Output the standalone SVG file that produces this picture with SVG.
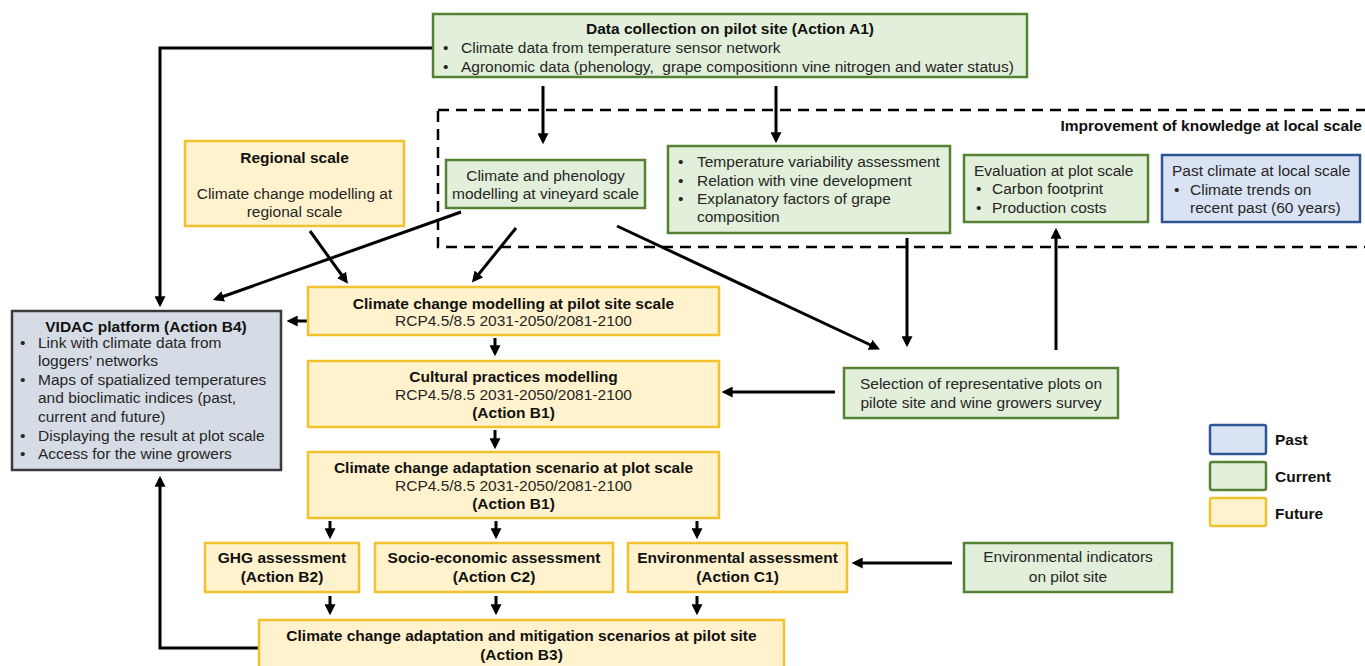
<svg xmlns="http://www.w3.org/2000/svg" width="1365" height="666" viewBox="0 0 1365 666">
<defs>
<marker id="ah" viewBox="0 0 10 10" refX="7" refY="5" markerWidth="11" markerHeight="11" markerUnits="userSpaceOnUse" orient="auto">
<path d="M0,0 L10,5 L0,10 z" fill="#000"/>
</marker>
<style>
.g{fill:#e2efda;stroke:#548235;stroke-width:2.5}
.y{fill:#fff2cc;stroke:#f2c12e;stroke-width:2.5}
.b{fill:#dae3f3;stroke:#2f5597;stroke-width:2.5}
.v{fill:#d6dce5;stroke:#3a3a3a;stroke-width:2.5}
text{font-family:"Liberation Sans",Arial,sans-serif;font-size:15.5px;fill:#262626}
.t{font-weight:bold;fill:#111}
.c{text-anchor:middle}
.e{text-anchor:end}
.con line,.con polyline{stroke:#000;stroke-width:3;fill:none;marker-end:url(#ah)}
</style>
</defs>
<rect width="1365" height="666" fill="#fff"/>

<g id="region">
<rect x="438" y="110" width="940" height="137" fill="none" stroke="#000" stroke-width="2.5" stroke-dasharray="11,7"/>
<text class="t e" x="1362" y="131">Improvement of knowledge at local scale</text>
</g>

<g class="con" id="connectors">
<polyline points="433,48 160,48 160,304"/>
<line x1="543" y1="86" x2="543" y2="141"/>
<line x1="776" y1="86" x2="776" y2="140"/>
<line x1="461" y1="212" x2="216" y2="299"/>
<line x1="310" y1="231" x2="346" y2="281"/>
<line x1="516" y1="228" x2="474" y2="280"/>
<line x1="617" y1="226" x2="877" y2="348"/>
<line x1="907" y1="238" x2="907" y2="344"/>
<line x1="1056" y1="350" x2="1056" y2="231"/>
<line x1="308" y1="321" x2="290" y2="321"/>
<line x1="495" y1="338" x2="495" y2="353"/>
<line x1="495" y1="430" x2="495" y2="446"/>
<line x1="835" y1="392" x2="725" y2="392"/>
<line x1="330" y1="521" x2="330" y2="536"/>
<line x1="496" y1="521" x2="496" y2="536"/>
<line x1="697" y1="521" x2="697" y2="536"/>
<line x1="952" y1="563" x2="855" y2="563"/>
<line x1="330" y1="596" x2="330" y2="612"/>
<line x1="496" y1="596" x2="496" y2="612"/>
<line x1="697" y1="596" x2="697" y2="612"/>
<polyline points="259,648 160,648 160,479"/>
</g>

<g id="a1">
<rect class="g" x="433" y="14" width="594" height="63"/>
<text class="t c" x="730" y="34">Data collection on pilot site (Action A1)</text>
<text x="443" y="53">•</text><text x="461" y="53">Climate data from temperature sensor network</text>
<text x="443" y="72">•</text><text x="461" y="72" xml:space="preserve">Agronomic data (phenology,  grape compositionn vine nitrogen and water status)</text>
</g>

<g id="regional">
<rect class="y" x="185" y="141" width="219" height="85"/>
<text class="t c" x="294.5" y="163">Regional scale</text>
<text class="c" x="294.5" y="199">Climate change modelling at</text>
<text class="c" x="294.5" y="217">regional scale</text>
</g>

<g id="phenology">
<rect class="g" x="446" y="160" width="199" height="48"/>
<text class="c" x="545.5" y="181">Climate and phenology</text>
<text class="c" x="545.5" y="199">modelling at vineyard scale</text>
</g>

<g id="tempvar">
<rect class="g" x="668" y="146" width="282" height="87"/>
<text x="678" y="167">•</text><text x="697" y="167">Temperature variability assessment</text>
<text x="678" y="186">•</text><text x="697" y="186">Relation with vine development</text>
<text x="678" y="204">•</text><text x="697" y="204">Explanatory factors of grape</text>
<text x="697" y="222">composition</text>
</g>

<g id="evaluation">
<rect class="g" x="964" y="155" width="184" height="67"/>
<text x="974" y="176">Evaluation at plot scale</text>
<text x="976" y="194">•</text><text x="992" y="194">Carbon footprint</text>
<text x="976" y="213">•</text><text x="992" y="213">Production costs</text>
</g>

<g id="past">
<rect class="b" x="1162" y="155" width="198" height="67"/>
<text x="1172" y="176">Past climate at local scale</text>
<text x="1174" y="195">•</text><text x="1190" y="195">Climate trends on</text>
<text x="1190" y="213">recent past (60 years)</text>
</g>

<g id="vidac">
<rect class="v" x="12" y="311" width="269" height="159"/>
<text class="t c" x="146" y="332">VIDAC platform (Action B4)</text>
<text x="20" y="348">•</text><text x="38" y="348">Link with climate data from</text>
<text x="38" y="366">loggers’ networks</text>
<text x="20" y="385">•</text><text x="38" y="385">Maps of spatialized temperatures</text>
<text x="38" y="403">and bioclimatic indices (past,</text>
<text x="38" y="422">current and future)</text>
<text x="20" y="441">•</text><text x="38" y="441">Displaying the result at plot scale</text>
<text x="20" y="459">•</text><text x="38" y="459">Access for the wine growers</text>
</g>

<g id="pilotscale">
<rect class="y" x="308" y="287" width="411" height="48"/>
<text class="t c" x="513.5" y="309">Climate change modelling at pilot site scale</text>
<text class="c" x="513.5" y="326">RCP4.5/8.5 2031-2050/2081-2100</text>
</g>

<g id="cultural">
<rect class="y" x="308" y="361" width="411" height="66"/>
<text class="t c" x="513.5" y="382">Cultural practices modelling</text>
<text class="c" x="513.5" y="400">RCP4.5/8.5 2031-2050/2081-2100</text>
<text class="t c" x="513.5" y="418">(Action B1)</text>
</g>

<g id="adaptation">
<rect class="y" x="308" y="452" width="411" height="66"/>
<text class="t c" x="513.5" y="473">Climate change adaptation scenario at plot scale</text>
<text class="c" x="513.5" y="491">RCP4.5/8.5 2031-2050/2081-2100</text>
<text class="t c" x="513.5" y="509">(Action B1)</text>
</g>

<g id="selection">
<rect class="g" x="844" y="368" width="274" height="50"/>
<text class="c" x="981" y="389">Selection of representative plots on</text>
<text class="c" x="981" y="408">pilote site and wine growers survey</text>
</g>

<g id="ghg">
<rect class="y" x="205" y="543" width="154" height="49"/>
<text class="t c" x="282" y="563">GHG assessment</text>
<text class="t c" x="282" y="582">(Action B2)</text>
</g>

<g id="socio">
<rect class="y" x="375" y="543" width="238" height="49"/>
<text class="t c" x="494" y="563">Socio-economic assessment</text>
<text class="t c" x="494" y="582">(Action C2)</text>
</g>

<g id="env">
<rect class="y" x="628" y="543" width="219" height="49"/>
<text class="t c" x="737.5" y="563">Environmental assessment</text>
<text class="t c" x="737.5" y="582">(Action C1)</text>
</g>

<g id="envind">
<rect class="g" x="964" y="543" width="208" height="49"/>
<text class="c" x="1068" y="562">Environmental indicators</text>
<text class="c" x="1068" y="582">on pilot site</text>
</g>

<g id="b3">
<rect class="y" x="259" y="620" width="525" height="52"/>
<text class="t c" x="521.5" y="641">Climate change adaptation and mitigation scenarios at pilot site</text>
<text class="t c" x="521.5" y="660">(Action B3)</text>
</g>

<g id="legend">
<rect class="b" x="1210" y="425" width="56" height="29" rx="2"/>
<text class="t" x="1275" y="445">Past</text>
<rect class="g" x="1210" y="462" width="56" height="28" rx="2"/>
<text class="t" x="1275" y="482">Current</text>
<rect class="y" x="1210" y="498" width="56" height="28" rx="2"/>
<text class="t" x="1275" y="519">Future</text>
</g>
</svg>
